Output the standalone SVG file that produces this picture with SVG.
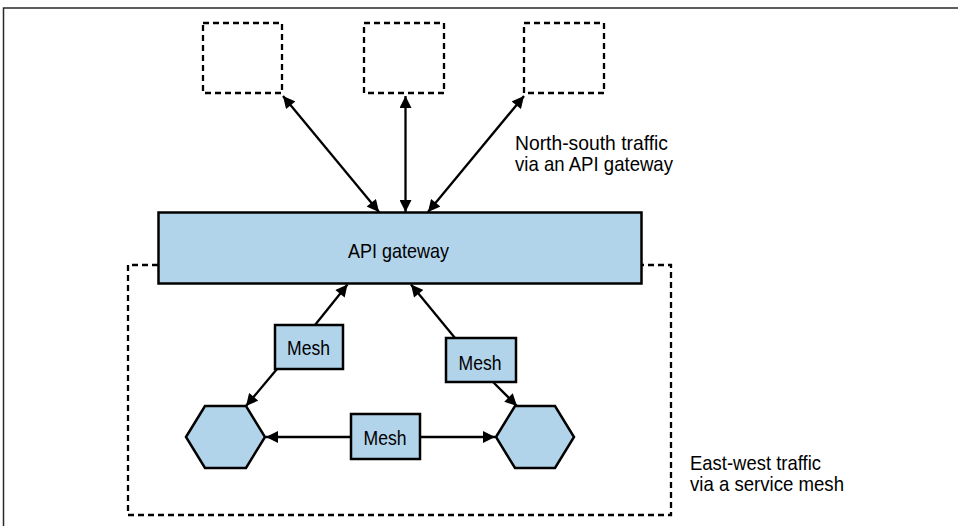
<svg xmlns="http://www.w3.org/2000/svg" width="958" height="526" viewBox="0 0 958 526">
<style>
.bg{fill:#ffffff}
.frame{fill:none;stroke:#2a2a2a;stroke-width:1.5}
.dash{fill:none;stroke:#000;stroke-width:2.3;stroke-dasharray:6 4}
.node{fill:#b2d4ea;stroke:#000;stroke-width:2.5}
.conn{fill:none;stroke:#000;stroke-width:2.3}
.t{font-family:"Liberation Sans",Arial,sans-serif;font-size:21px;fill:#000}
</style>
<defs>
<marker id="ah" viewBox="0 0 10 10" refX="10" refY="5" markerUnits="userSpaceOnUse" markerWidth="13" markerHeight="12" orient="auto-start-reverse">
<path d="M0,0 L10,5 L0,10 z" fill="#000"/>
</marker>
</defs>
<rect class="bg" x="0" y="0" width="958" height="526"/>
<path class="frame" d="M3.5,526 V8 H958"/>

<g id="ext1"><rect class="dash" x="203" y="23" width="79" height="70"/></g>
<g id="ext2"><rect class="dash" x="364" y="23" width="80" height="70"/></g>
<g id="ext3"><rect class="dash" x="524" y="23" width="80" height="70"/></g>

<g id="mesh-boundary"><path class="dash" d="M158,265 H128 V515 H671 V265 H642"/></g>

<g id="gateway">
<rect class="node" x="158.5" y="212.5" width="483" height="71"/>
<text class="t" x="348" y="258" textLength="101" lengthAdjust="spacingAndGlyphs">API gateway</text>
</g>

<g id="mesh1">
<rect class="node" x="275" y="325" width="68" height="44"/>
<text class="t" x="287" y="355" textLength="43" lengthAdjust="spacingAndGlyphs">Mesh</text>
</g>
<g id="mesh2">
<rect class="node" x="446" y="338" width="70" height="44"/>
<text class="t" x="458.5" y="370" textLength="43" lengthAdjust="spacingAndGlyphs">Mesh</text>
</g>
<g id="mesh3">
<rect class="node" x="351" y="414" width="69" height="45"/>
<text class="t" x="363.5" y="445" textLength="43" lengthAdjust="spacingAndGlyphs">Mesh</text>
</g>

<g id="svc1"><polygon class="node" points="186,437 205,406 246,406 265,437 246,468 205,468"/></g>
<g id="svc2"><polygon class="node" points="496,437 515,406 555,406 574,437 555,468 515,468"/></g>

<g id="connectors">
<line class="conn" x1="283" y1="96" x2="379" y2="212" marker-start="url(#ah)" marker-end="url(#ah)"/>
<line class="conn" x1="405.5" y1="96" x2="405.5" y2="212" marker-start="url(#ah)" marker-end="url(#ah)"/>
<line class="conn" x1="524" y1="96" x2="428" y2="212" marker-start="url(#ah)" marker-end="url(#ah)"/>
<line class="conn" x1="315" y1="325" x2="347.5" y2="284.5" marker-end="url(#ah)"/>
<line class="conn" x1="277" y1="369" x2="246" y2="406" marker-end="url(#ah)"/>
<line class="conn" x1="455" y1="338" x2="411" y2="284.5" marker-end="url(#ah)"/>
<line class="conn" x1="493" y1="382" x2="517" y2="406" marker-end="url(#ah)"/>
<line class="conn" x1="351" y1="437" x2="266" y2="437" marker-end="url(#ah)"/>
<line class="conn" x1="420" y1="437" x2="495" y2="437" marker-end="url(#ah)"/>
</g>

<g id="label-ns">
<text class="t" x="515" y="150" textLength="153" lengthAdjust="spacingAndGlyphs">North-south traffic</text>
<text class="t" x="515" y="171" textLength="158" lengthAdjust="spacingAndGlyphs">via an API gateway</text>
</g>
<g id="label-ew">
<text class="t" x="690" y="470" textLength="131" lengthAdjust="spacingAndGlyphs">East-west traffic</text>
<text class="t" x="690" y="491" textLength="154" lengthAdjust="spacingAndGlyphs">via a service mesh</text>
</g>
</svg>
